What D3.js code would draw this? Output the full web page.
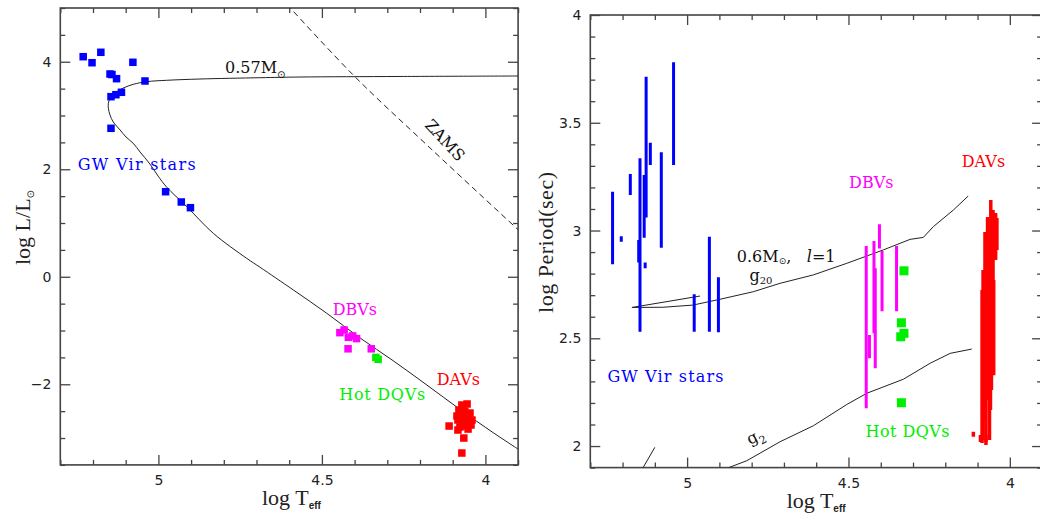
<!DOCTYPE html>
<html>
<head>
<meta charset="utf-8">
<script src="https://cdn.jsdelivr.net/npm/d3@7"></script>
<style>
  html, body { margin: 0; padding: 0; background: #fff; }
  svg { display: block; }
  .tick text { font-family: "DejaVu Sans", sans-serif; font-size: 14px; fill: #222; }
  .tick line { stroke: #444; stroke-width: 1.3; }
  .lbl { font-family: "DejaVu Serif", serif; font-size: 16px; }
  .axlbl { font-family: "Liberation Serif", serif; font-size: 22px; fill: #222; }
</style>
</head>
<body>
<svg id="chart" width="1040" height="514"></svg>
<script>
// ---------------- H-R diagram: log Teff vs log L/Lsun ----------------
const hrGwVir = [[5.230,4.094],[5.203,3.982],[5.176,4.176],[5.148,3.772],[5.142,3.762],
  [5.128,3.685],[5.078,3.990],[5.041,3.642],[5.145,3.350],[5.130,3.387],[5.113,3.432],
  [5.145,2.762],[4.978,1.582],[4.930,1.391],[4.902,1.285]];
const hrDbv = [[4.445,-1.04],[4.432,-0.99],[4.419,-1.127],[4.406,-1.10],[4.394,-1.15],
  [4.420,-1.34],[4.349,-1.34]];
const hrDqv = [[4.335,-1.50],[4.328,-1.536]];
const hrDav = [[4.072,-2.386],[4.056,-2.367],[4.081,-2.479],[4.063,-2.498],[4.047,-2.535],
  [4.087,-2.591],[4.072,-2.609],[4.053,-2.628],[4.041,-2.665],[4.084,-2.665],[4.069,-2.684],
  [4.050,-2.702],[4.078,-2.795],[4.060,-2.777],[4.044,-2.758],[4.084,-2.851],[4.053,-2.833],
  [4.111,-2.777],[4.066,-3.000],[4.072,-3.279]];

// 0.57 Msun post-AGB evolutionary track
const track057 = [[3.900,3.735],[4.261,3.726],[4.567,3.716],[4.689,3.703],[4.873,3.679],
  [4.975,3.655],[5.036,3.629],[5.077,3.580],[5.102,3.525],[5.123,3.461],[5.138,3.394],
  [5.148,3.320],[5.153,3.227],[5.153,3.134],[5.148,3.009],[5.138,2.879],[5.117,2.730],
  [5.099,2.600],[5.077,2.483],[5.056,2.321],[5.026,2.098],[5.001,1.874],[4.975,1.670],
  [4.913,1.303],[4.832,0.808],[4.730,0.343],[4.689,0.176],[4.587,-0.247],[4.485,-0.680],
  [4.383,-1.140],[4.282,-1.562],[4.179,-2.014],[4.078,-2.466],[3.976,-2.901],[3.899,-3.210]];
// zero-age main sequence
const zams = [[4.628,5.2],[4.597,5.0],[4.399,3.722],[4.169,2.395],[3.899,0.870]];

const hrXMajor = [5, 4.5, 4];
const hrYMajor = [4, 2, 0, -2];

// ---------------- Period diagram: log Teff vs log Period ----------------
// [log Teff, log P min, log P max]
const perGwVir = [[5.231,2.843,3.180],[5.204,2.948,2.974],[5.176,3.165,3.262],[5.146,2.530,3.335],
  [5.150,2.852,2.956],[5.133,2.967,3.258],[5.127,3.061,3.714],[5.130,2.825,2.852],
  [5.114,3.304,3.407],[5.080,2.920,3.363],[5.042,3.304,3.781],[4.978,2.530,2.704],
  [4.931,2.530,2.971],[4.903,2.528,2.783]];
const perDbv = [[4.404,2.917,3.029],[4.445,2.175,2.928],[4.421,2.523,2.951],[4.417,2.361,2.825],
  [4.396,2.626,2.905],[4.351,2.626,2.928],[4.435,2.407,2.515]];
const perDav = [[4.059,2.817,3.142],[4.052,2.678,3.095],[4.044,2.863,3.081],[4.040,2.910,3.058],
  [4.069,2.538,3.063],[4.077,2.121,2.993],[4.083,2.028,2.817],[4.066,2.214,2.956],
  [4.057,2.260,2.909],[4.050,2.329,2.770],[4.086,2.014,2.724],[4.063,2.028,2.678],
  [4.074,2.005,2.585],[4.060,2.167,2.399],[4.113,2.043,2.066],[4.091,2.019,2.051],[4.074,2.019,2.051]];
// hot DQ pulsators: [log Teff, log P]
const perDqv = [[4.328,2.813],[4.336,2.572],[4.338,2.507],[4.328,2.523],[4.336,2.201]];

// asymptotic periods of the 0.6 Msun sequence, l = 1
const g20 = [[4.960,2.696],[5.171,2.643],[5.075,2.644],[4.982,2.654],[4.898,2.681],[4.795,2.716],
  [4.712,2.755],[4.609,2.794],[4.505,2.848],[4.392,2.910],[4.309,2.959],[4.268,2.968],
  [4.237,3.018],[4.175,3.095],[4.129,3.160]];
const g2 = [[4.914,1.865],[4.869,1.901],[4.815,1.932],[4.712,2.020],[4.609,2.094],[4.505,2.193],
  [4.443,2.245],[4.330,2.310],[4.247,2.384],[4.185,2.430],[4.118,2.450]];
const g2Hot = [[5.145,1.87],[5.136,1.901],[5.100,1.994]];

const perXMajor = [5, 4.5, 4];
const perYMajor = [4, 3.5, 3, 2.5, 2];

const COL = { gw: "#0000ff", dbv: "#ff00ff", dqv: "#00ee00", dav: "#ff0000" };

const svg = d3.select("#chart");

const xHR = d3.scaleLinear().domain([5.3, 3.9]).range([60.3, 518.1]);
const yHR = d3.scaleLinear().domain([-3.5, 5]).range([464.9, 8]);
const xP = d3.scaleLinear().domain([5.3, 3.9]).range([590.3, 1042.1]);
const yP = d3.scaleLinear().domain([1.9, 4]).range([467.6, 15]);

const fmt = d => d3.format("")(d);

function frame(x, y, xMajor, xMinor, yMajor, yMinor, id) {
  const [x0, x1] = x.range(), [y0, y1] = y.range();
  const g = svg.append("g");
  svg.append("clipPath").attr("id", id).append("rect")
    .attr("x", x0).attr("y", y1).attr("width", x1 - x0).attr("height", y0 - y1);
  const strip = s => s.select(".domain").remove();
  g.append("g").attr("transform", `translate(0,${y0})`)
    .call(d3.axisBottom(x).tickValues(xMinor).tickSize(-5).tickFormat("")).call(strip);
  g.append("g").attr("transform", `translate(0,${y0})`)
    .call(d3.axisBottom(x).tickValues(xMajor).tickSize(-10).tickPadding(10).tickFormat(fmt)).call(strip);
  g.append("g").attr("transform", `translate(0,${y1})`)
    .call(d3.axisTop(x).tickValues(xMinor).tickSize(-5).tickFormat("")).call(strip);
  g.append("g").attr("transform", `translate(0,${y1})`)
    .call(d3.axisTop(x).tickValues(xMajor).tickSize(-10).tickFormat("")).call(strip);
  g.append("g").attr("transform", `translate(${x0},0)`)
    .call(d3.axisLeft(y).tickValues(yMinor).tickSize(-5).tickFormat("")).call(strip);
  g.append("g").attr("transform", `translate(${x0},0)`)
    .call(d3.axisLeft(y).tickValues(yMajor).tickSize(-10).tickPadding(9).tickFormat(fmt)).call(strip);
  g.append("g").attr("transform", `translate(${x1},0)`)
    .call(d3.axisRight(y).tickValues(yMinor).tickSize(-5).tickFormat("")).call(strip);
  g.append("g").attr("transform", `translate(${x1},0)`)
    .call(d3.axisRight(y).tickValues(yMajor).tickSize(-10).tickFormat("")).call(strip);
  g.selectAll(".tick text").attr("font-family", null).attr("font-size", null);
  g.append("rect").attr("x", x0).attr("y", y1).attr("width", x1 - x0).attr("height", y0 - y1)
    .attr("fill", "none").attr("stroke", "#444").attr("stroke-width", 1.6);
  return g;
}

const round = v => Math.round(v * 100) / 100;

// ======== left panel ========
frame(xHR, yHR, hrXMajor, d3.range(39, 54).map(d => d / 10).filter(d => !hrXMajor.includes(d)),
  hrYMajor, d3.range(-7, 11).map(d => d / 2).filter(d => !hrYMajor.includes(d)), "clipHR");

const hr = svg.append("g").attr("clip-path", "url(#clipHR)");
const lineHR = d3.line().x(d => xHR(d[0])).y(d => yHR(d[1]));
hr.append("path").datum(zams).attr("d", lineHR.curve(d3.curveCatmullRom))
  .attr("fill", "none").attr("stroke", "#222").attr("stroke-width", 1).attr("stroke-dasharray", "6,4");
hr.append("path").datum(track057).attr("d", lineHR.curve(d3.curveCatmullRom))
  .attr("fill", "none").attr("stroke", "#222").attr("stroke-width", 1);

function squares(g, data, x, y, size, color) {
  g.append("g").selectAll("rect").data(data).join("rect")
    .attr("x", d => x(d[0]) - size / 2).attr("y", d => y(d[1]) - size / 2)
    .attr("width", size).attr("height", size).attr("fill", color);
}
squares(hr, hrGwVir, xHR, yHR, 7.5, COL.gw);
squares(hr, hrDbv, xHR, yHR, 7.5, COL.dbv);
squares(hr, hrDqv, xHR, yHR, 7.5, COL.dqv);
squares(hr, hrDav, xHR, yHR, 7.5, COL.dav);

function label(x, y, text, color, len) {
  const t = svg.append("text").attr("class", "lbl").attr("x", x).attr("y", y)
    .attr("fill", color).text(text);
  if (len) t.attr("textLength", len).attr("lengthAdjust", "spacing");
  return t;
}
label(xHR(5.247), yHR(1.99), "GW Vir stars", COL.gw, 118);
label(xHR(4.467), yHR(-0.712), "DBVs", COL.dbv);
label(xHR(4.447), yHR(-2.30), "Hot DQVs", COL.dqv, 86);
label(xHR(4.149), yHR(-2.014), "DAVs", COL.dav);

const m057 = svg.append("text").attr("class", "lbl").attr("fill", "#111")
  .attr("x", xHR(4.796)).attr("y", yHR(3.79));
m057.append("tspan").text("0.57M");
m057.append("tspan").attr("font-family", "DejaVu Sans").attr("font-size", 10).attr("dy", 5).text("⊙");

svg.append("text").attr("class", "lbl").attr("fill", "#111")
  .attr("transform", `translate(${xHR(4.136)},${yHR(2.47)}) rotate(47)`)
  .attr("text-anchor", "middle").text("ZAMS");

// axis titles
const hrX = svg.append("text").attr("class", "axlbl").attr("x", 262).attr("y", 505);
hrX.append("tspan").text("log T");
hrX.append("tspan").attr("font-family", "Liberation Sans").attr("font-weight", "bold")
  .attr("font-size", 10).attr("dy", 4).text("eff");

const hrY = svg.append("text").attr("class", "axlbl").attr("font-size", 17)
  .attr("transform", "translate(29.5,227.5) rotate(-90)").attr("text-anchor", "middle");
hrY.append("tspan").text("log L/L");
hrY.append("tspan").attr("font-family", "DejaVu Sans").attr("font-size", 10).attr("dy", 4).text("⊙");

// ======== right panel ========
frame(xP, yP, perXMajor, d3.range(39, 54).map(d => d / 10).filter(d => !perXMajor.includes(d)),
  perYMajor, d3.range(19, 41).map(d => d / 10).filter(d => !perYMajor.map(round).includes(d)), "clipP");

const pp = svg.append("g").attr("clip-path", "url(#clipP)");
const lineP = d3.line().x(d => xP(d[0])).y(d => yP(d[1]));
[g20, g2, g2Hot].forEach(c => pp.append("path").datum(c).attr("d", lineP)
  .attr("fill", "none").attr("stroke", "#222").attr("stroke-width", 1));

function bars(g, data, color, w) {
  g.append("g").selectAll("line").data(data).join("line")
    .attr("x1", d => xP(d[0])).attr("x2", d => xP(d[0]))
    .attr("y1", d => yP(d[1])).attr("y2", d => yP(d[2]))
    .attr("stroke", color).attr("stroke-width", w);
}
bars(pp, perGwVir, COL.gw, 3);
bars(pp, perDbv, COL.dbv, 3);
bars(pp, perDav, COL.dav, 3.5);
squares(pp, perDqv, xP, yP, 9, COL.dqv);

label(xP(5.247), yP(2.297), "GW Vir stars", COL.gw, 116);
label(xP(4.498), yP(3.197), "DBVs", COL.dbv);
label(xP(4.149), yP(3.297), "DAVs", COL.dav);
label(xP(4.447), yP(2.044), "Hot DQVs", COL.dqv, 84);

const m06 = svg.append("text").attr("class", "lbl").attr("fill", "#111")
  .attr("x", xP(4.846)).attr("y", yP(2.855));
m06.append("tspan").text("0.6M");
m06.append("tspan").attr("font-family", "DejaVu Sans").attr("font-size", 9).attr("dy", 2).text("⊙");
m06.append("tspan").attr("dy", -2).text(",");
const ell = svg.append("text").attr("class", "lbl").attr("fill", "#111")
  .attr("x", xP(4.629)).attr("y", yP(2.855));
ell.append("tspan").attr("font-style", "italic").text("l");
ell.append("tspan").text("=1");

const g20l = svg.append("text").attr("class", "lbl").attr("fill", "#111")
  .attr("font-size", 15).attr("x", xP(4.807)).attr("y", yP(2.766));
g20l.append("tspan").text("g");
g20l.append("tspan").attr("font-size", 10).attr("dy", 3).text("20");

const g2l = svg.append("text").attr("class", "lbl").attr("fill", "#111")
  .attr("transform", `translate(${xP(4.805)},${yP(2.005)}) rotate(-27)`);
g2l.append("tspan").text("g");
g2l.append("tspan").attr("font-size", 11).attr("dy", 5).text("2");

const pX = svg.append("text").attr("class", "axlbl").attr("x", 786.7).attr("y", 508);
pX.append("tspan").text("log T");
pX.append("tspan").attr("font-family", "Liberation Sans").attr("font-weight", "bold")
  .attr("font-size", 10).attr("dy", 4).text("eff");

svg.append("text").attr("class", "axlbl")
  .attr("transform", "translate(553,242.5) rotate(-90)").attr("text-anchor", "middle")
  .attr("textLength", 141).attr("lengthAdjust", "spacing").text("log Period(sec)");
</script>
</body>
</html>
